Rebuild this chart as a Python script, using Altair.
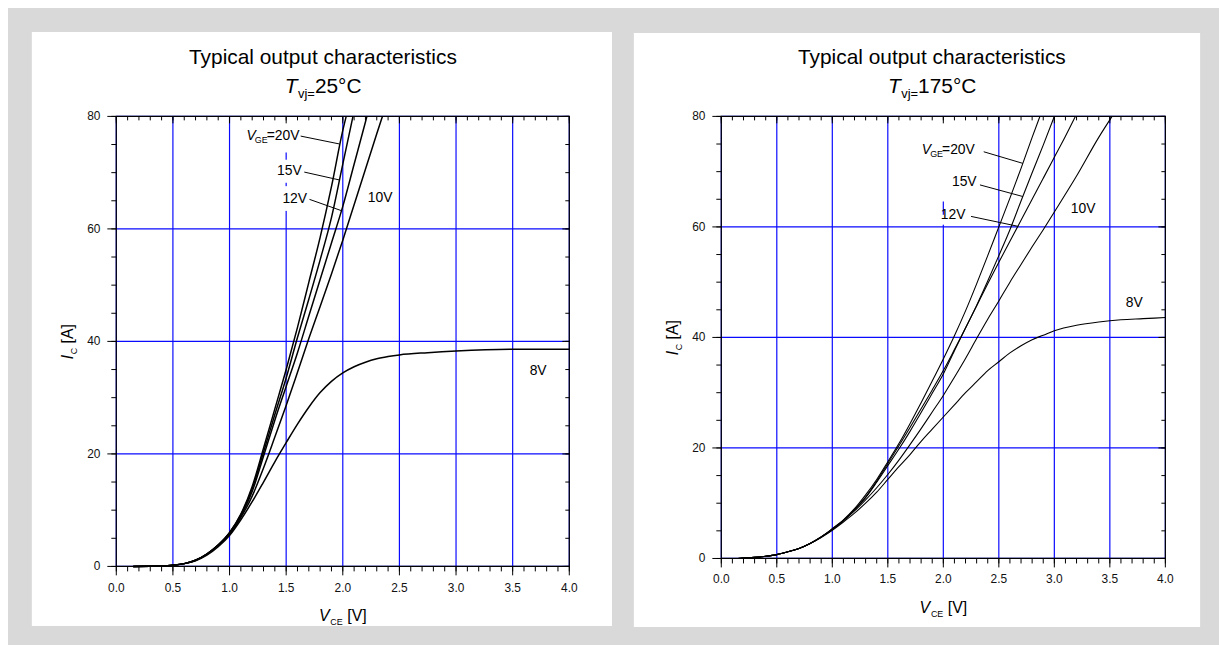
import altair as alt
import pandas as pd

FONT = "Liberation Sans"
BLUE = "#0a0aff"
GREY = "#d9d9d9"

# ---------------- axes ----------------
X_MAJOR = [0.0, 0.5, 1.0, 1.5, 2.0, 2.5, 3.0, 3.5, 4.0]
X_LABELS = ["0.0", "0.5", "1.0", "1.5", "2.0", "2.5", "3.0", "3.5", "4.0"]
Y_MAJOR = [0, 20, 40, 60, 80]
Y_LABELS = ["0", "20", "40", "60", "80"]
X_MINOR = [round(0.1 * i, 1) for i in range(41)]
Y_MINOR = list(range(0, 81, 5))

# ---------------- Tvj = 25 C ----------------
L_LOW_V = [0.15, 0.3, 0.4, 0.5, 0.6, 0.7, 0.8, 0.9]
L_LOW_I = [0.0, 0.02, 0.06, 0.2, 0.5, 1.1, 2.2, 3.8]

L20_V = [1.0, 1.1, 1.2, 1.3, 1.4, 1.5, 1.6, 1.7, 1.8, 1.9, 2.0, 2.03]
L20_I = [6.0, 9.3, 14.2, 21.0, 28.0, 35.0, 42.5, 50.5, 58.5, 67.5, 77.5, 80.0]
L15_V = [1.0, 1.1, 1.2, 1.3, 1.4, 1.5, 1.6, 1.7, 1.8, 1.9, 2.0, 2.09]
L15_I = [6.0, 9.2, 13.8, 20.3, 27.0, 33.5, 40.7, 47.5, 54.5, 62.0, 71.5, 80.0]
L12_V = [1.0, 1.1, 1.2, 1.3, 1.4, 1.5, 1.6, 1.7, 1.8, 1.9, 2.0, 2.1, 2.2, 2.213]
L12_I = [5.9, 9.0, 13.3, 19.6, 26.0, 32.0, 38.0, 44.5, 51.0, 57.5, 64.0, 71.5, 79.0, 80.0]
L10_V = [1.0, 1.1, 1.2, 1.3, 1.4, 1.5, 1.6, 1.7, 1.8, 1.9, 2.0, 2.1, 2.2, 2.3, 2.35]
L10_I = [5.7, 8.7, 12.5, 17.5, 23.0, 28.6, 34.5, 40.5, 46.2, 52.0, 58.0, 64.3, 70.6, 76.9, 80.0]
L8_V = [0.15, 0.3, 0.4, 0.5, 0.6, 0.7, 0.8, 0.9, 1.0, 1.1, 1.2, 1.3, 1.4, 1.5, 1.6, 1.7,
        1.8, 1.9, 2.0, 2.1, 2.2, 2.3, 2.4, 2.5, 2.75, 3.0, 3.5, 4.0]
L8_I = [0.0, 0.02, 0.06, 0.2, 0.5, 1.0, 2.0, 3.5, 5.5, 8.3, 11.5, 15.0, 18.6, 22.0, 25.3, 28.3,
        30.9, 32.9, 34.4, 35.5, 36.3, 36.9, 37.3, 37.6, 38.0, 38.3, 38.6, 38.6]

L_LEAD_TEXT = ["=20V", "15V", "12V"]
L_LEAD_TX = [1.618, 1.638, 1.685]
L_LEAD_TY = [76.5, 70.3, 65.3]
L_LEAD_X1 = [1.628, 1.66, 1.706]
L_LEAD_Y1 = [76.5, 70.1, 65.25]
L_LEAD_X2 = [1.97, 1.97, 1.994]
L_LEAD_Y2 = [75.1, 68.7, 63.2]
L_FREE_TEXT = ["10V", "8V"]
L_FREE_X = [2.33, 3.725]
L_FREE_Y = [65.4, 34.7]
# white label boxes (they hide the grid behind the labels)
L_BOX_X1 = [1.14, 1.44, 1.49]
L_BOX_X2 = [1.625, 1.645, 1.70]
L_BOX_Y1 = [73.6, 68.2, 63.2]
L_BOX_Y2 = [80.0, 72.3, 67.6]

# ---------------- Tvj = 175 C ----------------
R_LOW_V = [0.15, 0.3, 0.4, 0.5, 0.6, 0.7, 0.8, 0.9]
R_LOW_I = [0.0, 0.2, 0.4, 0.7, 1.2, 1.8, 2.7, 3.9]

R20_V = [1.0, 1.1, 1.2, 1.3, 1.4, 1.5, 1.6, 1.7, 1.8, 1.9, 2.0, 2.1, 2.2, 2.3, 2.4, 2.5, 2.6, 2.7, 2.8, 2.87]
R20_I = [5.4, 7.0, 9.0, 11.5, 14.3, 17.5, 20.8, 24.4, 28.2, 32.1, 36.1, 40.3, 44.8, 49.7, 54.8, 60.0, 65.2, 70.6, 76.2, 80.0]
R15_V = [1.0, 1.1, 1.2, 1.3, 1.4, 1.5, 1.6, 1.7, 1.8, 1.9, 2.0, 2.1, 2.2, 2.3, 2.4, 2.5, 2.6, 2.7, 2.8, 2.9, 3.0]
R15_I = [5.3, 6.9, 8.8, 11.1, 14.0, 17.2, 20.4, 23.7, 27.1, 30.5, 34.0, 37.8, 41.7, 45.8, 50.2, 54.8, 59.5, 64.7, 69.8, 74.8, 80.0]
R12_V = [1.0, 1.1, 1.2, 1.3, 1.4, 1.5, 1.6, 1.7, 1.8, 1.9, 2.0, 2.1, 2.2, 2.3, 2.4, 2.5, 2.6, 2.7, 2.8, 2.9, 3.0, 3.1, 3.19]
R12_I = [5.3, 6.9, 8.8, 11.0, 13.8, 16.8, 19.8, 23.0, 26.4, 29.9, 33.4, 37.6, 41.7, 45.7, 49.7, 53.6, 57.4, 61.2, 65.0, 68.8, 72.6, 76.4, 80.0]
R10_V = [1.0, 1.1, 1.2, 1.3, 1.4, 1.5, 1.6, 1.7, 1.8, 1.9, 2.0, 2.1, 2.2, 2.3, 2.4, 2.5, 2.6, 2.7, 2.8, 2.9, 3.0, 3.2, 3.4, 3.52]
R10_I = [5.2, 6.8, 8.6, 10.6, 12.8, 15.2, 17.8, 20.6, 23.5, 26.5, 29.5, 32.8, 36.2, 39.8, 43.3, 46.6, 50.0, 53.2, 56.4, 59.5, 62.7, 69.2, 76.2, 80.0]
R8_V = [0.15, 0.3, 0.4, 0.5, 0.6, 0.7, 0.8, 0.9, 1.0, 1.1, 1.2, 1.3, 1.4, 1.5, 1.6, 1.7, 1.8, 1.9, 2.0,
        2.1, 2.2, 2.3, 2.4, 2.5, 2.6, 2.7, 2.8, 2.9, 3.0, 3.2, 3.4, 3.6, 3.8, 4.0]
R8_I = [0.0, 0.2, 0.4, 0.7, 1.2, 1.8, 2.7, 3.8, 5.1, 6.6, 8.2, 10.0, 12.0, 14.3, 16.6, 18.8, 21.2, 23.4, 25.6,
        27.8, 30.0, 32.0, 34.0, 35.6, 37.2, 38.5, 39.6, 40.4, 41.2, 42.2, 42.8, 43.2, 43.4, 43.6]

R_LEAD_TEXT = ["=20V", "15V", "12V"]
R_LEAD_TX = [2.284, 2.30, 2.20]
R_LEAD_TY = [73.9, 68.2, 62.2]
R_LEAD_X1 = [2.364, 2.33, 2.25]
R_LEAD_Y1 = [73.6, 67.6, 61.9]
R_LEAD_X2 = [2.716, 2.716, 2.674]
R_LEAD_Y2 = [71.5, 65.5, 60.1]
R_FREE_TEXT = ["10V", "8V"]
R_FREE_X = [3.26, 3.72]
R_FREE_Y = [63.3, 46.3]
R_BOX_X1 = [1.85, 1.98]
R_BOX_X2 = [2.29, 2.21]
R_BOX_Y1 = [64.6, 60.4]
R_BOX_Y2 = [80.0, 62.2]


def curves_df(series, low_v, low_i):
    rows = []
    for name, vs, cs in series:
        if vs[0] > low_v[-1]:
            vs = low_v + vs
            cs = low_i + cs
        for v, c in zip(vs, cs):
            rows.append({"s": name, "V": v, "I": c})
    return pd.DataFrame(rows)


ONE = pd.DataFrame({"k": [0]})


def txt(s, x, y, size, italic=False, align="left", angle=0, baseline="alphabetic"):
    kw = dict(text=s, font=FONT, fontSize=size, align=align, baseline=baseline, color="black")
    if italic:
        kw["fontStyle"] = "italic"
    if angle:
        kw["angle"] = angle
    return alt.Chart(ONE).mark_text(**kw).encode(x=alt.value(x), y=alt.value(y))


def panel(df, lead, free, boxes, W, H, box, tcx, temp, lw, xl_off):
    xs = alt.Scale(domain=[0, 4], nice=False, zero=False)
    ys = alt.Scale(domain=[0, 80], nice=False)
    X = lambda f: alt.X(f, scale=xs, axis=None)
    Y = lambda f: alt.Y(f, scale=ys, axis=None)
    bl, br, bt, bb = box
    L = []
    L.append(alt.Chart(ONE).mark_rect(fill="white", strokeWidth=0).encode(
        x=alt.value(bl), x2=alt.value(W + br), y=alt.value(bt), y2=alt.value(H + bb)))
    # grid
    L.append(alt.Chart(pd.DataFrame({"v": X_MAJOR})).mark_rule(color=BLUE, strokeWidth=1.2).encode(
        x=X("v:Q"), y=alt.value(0), y2=alt.value(H)))
    L.append(alt.Chart(pd.DataFrame({"v": Y_MAJOR})).mark_rule(color=BLUE, strokeWidth=1.2).encode(
        y=Y("v:Q"), x=alt.value(0), x2=alt.value(W)))
    # white label boxes
    L.append(alt.Chart(boxes).mark_rect(fill="white", strokeWidth=0).encode(
        x=X("x1:Q"), x2="x2:Q", y=Y("y1:Q"), y2="y2:Q"))
    # curves
    L.append(alt.Chart(df).mark_line(color="black", strokeWidth=lw, interpolate="monotone").encode(
        x=X("V:Q"), y=Y("I:Q"), detail="s:N"))
    # leaders and labels
    L.append(alt.Chart(lead).mark_rule(color="black", strokeWidth=1).encode(
        x=X("x1:Q"), y=Y("y1:Q"), x2="x2:Q", y2="y2:Q"))
    L.append(alt.Chart(lead).mark_text(font=FONT, fontSize=14, align="right", baseline="middle", color="black").encode(
        x=X("tx:Q"), y=Y("ty:Q"), text="t:N"))
    first = lead.iloc[[0]]
    L.append(alt.Chart(first).mark_text(text="GE", font=FONT, fontSize=9, align="right", baseline="middle",
                                        dx=-32, dy=4, color="black").encode(x=X("tx:Q"), y=Y("ty:Q")))
    L.append(alt.Chart(first).mark_text(text="V", font=FONT, fontSize=14, fontStyle="italic", align="right",
                                        baseline="middle", dx=-44, color="black").encode(x=X("tx:Q"), y=Y("ty:Q")))
    L.append(alt.Chart(free).mark_text(font=FONT, fontSize=14, align="center", baseline="middle", color="black").encode(
        x=X("x:Q"), y=Y("y:Q"), text="t:N"))
    # ticks
    xmin = pd.DataFrame({"v": X_MINOR})
    ymin = pd.DataFrame({"v": Y_MINOR})
    xmaj = pd.DataFrame({"v": X_MAJOR, "t": X_LABELS})
    ymaj = pd.DataFrame({"v": Y_MAJOR, "t": Y_LABELS})
    tk = dict(color="black", strokeWidth=1)
    L.append(alt.Chart(xmin).mark_rule(**tk).encode(x=X("v:Q"), y=alt.value(H), y2=alt.value(H + 5)))
    L.append(alt.Chart(xmaj).mark_rule(**tk).encode(x=X("v:Q"), y=alt.value(H), y2=alt.value(H + 9)))
    L.append(alt.Chart(xmin).mark_rule(**tk).encode(x=X("v:Q"), y=alt.value(0), y2=alt.value(4)))
    L.append(alt.Chart(xmaj).mark_rule(**tk).encode(x=X("v:Q"), y=alt.value(0), y2=alt.value(7)))
    L.append(alt.Chart(ymin).mark_rule(**tk).encode(y=Y("v:Q"), x=alt.value(-5), x2=alt.value(0)))
    L.append(alt.Chart(ymaj).mark_rule(**tk).encode(y=Y("v:Q"), x=alt.value(-9), x2=alt.value(0)))
    L.append(alt.Chart(ymin).mark_rule(**tk).encode(y=Y("v:Q"), x=alt.value(W - 4), x2=alt.value(W)))
    L.append(alt.Chart(ymaj).mark_rule(**tk).encode(y=Y("v:Q"), x=alt.value(W - 7), x2=alt.value(W)))
    # tick labels
    L.append(alt.Chart(xmaj).mark_text(font=FONT, fontSize=12, align="center", baseline="middle", color="#111").encode(
        x=X("v:Q"), y=alt.value(H + xl_off), text="t:N"))
    L.append(alt.Chart(ymaj).mark_text(font=FONT, fontSize=12, align="right", baseline="middle", color="#111").encode(
        y=Y("v:Q"), x=alt.value(-16), text="t:N"))
    # frame
    L.append(alt.Chart(ONE).mark_rect(filled=False, stroke="black", strokeWidth=1.2).encode(
        x=alt.value(0), x2=alt.value(W), y=alt.value(0), y2=alt.value(H)))
    # titles
    L.append(txt("Typical output characteristics", tcx, -53, 21, align="center"))
    wt = 0.611 * 21
    ws = 1.306 * 13
    wn = (0.556 * len(temp) + 0.4 + 0.722) * 21
    x0 = tcx - (wt + ws + wn) / 2
    L.append(txt("T", x0, -24, 21, italic=True))
    L.append(txt("vj=", x0 + wt + 0.5, -19, 13))
    L.append(txt(temp + "°C", x0 + wt + ws + 0.5, -24, 21))
    # x axis title  V_CE [V]
    xa = W / 2 - 24
    L.append(txt("V", xa, H + 55, 16, italic=True))
    L.append(txt("CE", xa + 11.5, H + 58.5, 9))
    L.append(txt("[V]", xa + 28.5, H + 55, 16))
    # y axis title  I_C [A] (rotated)
    y0 = H / 2 + 18
    xb = -43.5
    L.append(txt("I", xb, y0, 16, italic=True, angle=270))
    L.append(txt("C", xb + 3.5, y0 - 5.0, 9, angle=270))
    L.append(txt("[A]", xb, y0 - 16.0, 16, angle=270))
    return alt.layer(*L).properties(width=W, height=H)


left_df = curves_df([("20V", L20_V, L20_I), ("15V", L15_V, L15_I), ("12V", L12_V, L12_I),
                     ("10V", L10_V, L10_I), ("8V", L8_V, L8_I)], L_LOW_V, L_LOW_I)
right_df = curves_df([("20V", R20_V, R20_I), ("15V", R15_V, R15_I), ("12V", R12_V, R12_I),
                      ("10V", R10_V, R10_I), ("8V", R8_V, R8_I)], R_LOW_V, R_LOW_I)

left_lead = pd.DataFrame({"t": L_LEAD_TEXT, "tx": L_LEAD_TX, "ty": L_LEAD_TY, "x1": L_LEAD_X1,
                          "y1": L_LEAD_Y1, "x2": L_LEAD_X2, "y2": L_LEAD_Y2})
right_lead = pd.DataFrame({"t": R_LEAD_TEXT, "tx": R_LEAD_TX, "ty": R_LEAD_TY, "x1": R_LEAD_X1,
                           "y1": R_LEAD_Y1, "x2": R_LEAD_X2, "y2": R_LEAD_Y2})
left_free = pd.DataFrame({"t": L_FREE_TEXT, "x": L_FREE_X, "y": L_FREE_Y})
right_free = pd.DataFrame({"t": R_FREE_TEXT, "x": R_FREE_X, "y": R_FREE_Y})
left_boxes = pd.DataFrame({"x1": L_BOX_X1, "x2": L_BOX_X2, "y1": L_BOX_Y1, "y2": L_BOX_Y2})
right_boxes = pd.DataFrame({"x1": R_BOX_X1, "x2": R_BOX_X2, "y1": R_BOX_Y1, "y2": R_BOX_Y2})

left = panel(left_df, left_lead, left_free, left_boxes, 456, 453, (-85, 43, -85, 60), 208, "25", 1.5, 22)
right = panel(right_df, right_lead, right_free, right_boxes, 447, 445, (-88, 35, -84, 69), 212, "175", 1.1, 21)

chart = alt.hconcat(left, right, spacing=22).properties(
    background=GREY,
    padding={"left": 24, "top": 22, "right": 19, "bottom": 17},
).configure_view(stroke=None)

chart.save("out.html", embed_options={"renderer": "svg", "actions": False})
